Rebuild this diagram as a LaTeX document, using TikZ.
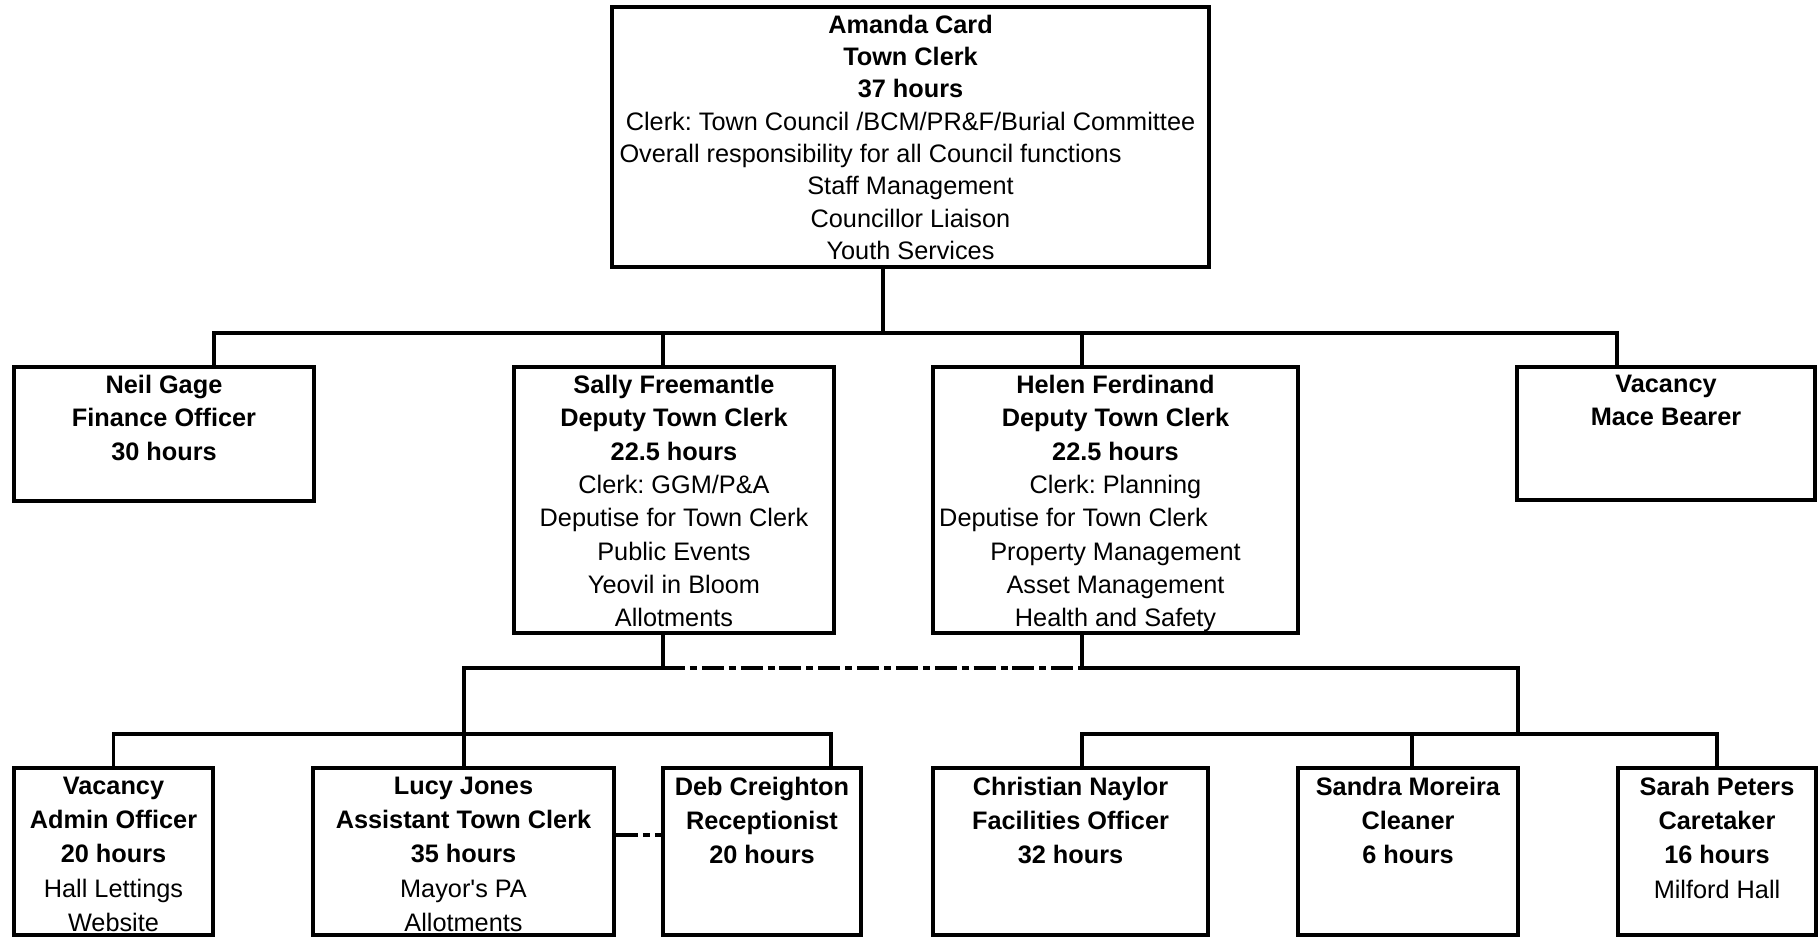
\documentclass[tikz,border=0pt]{standalone}
\usepackage{fontspec}
\setmainfont{Liberation Sans}
\frenchspacing
\usetikzlibrary{fit}
\tikzset{
  postbox/.style={draw, line width=2.2pt, inner sep=0pt},
  posttext/.style={anchor=north, align=center, inner sep=0pt, font=\fontsize{14.4}{19}\selectfont},
  wire/.style={line width=2.2pt},
  dashlink/.style={line width=2.2pt, dash pattern=on 12.5pt off 2.8pt on 4pt off 2.8pt}
}

\begin{document}
\begin{tikzpicture}[x=0.02cm, y=-0.02cm]
  \useasboundingbox (0,0) rectangle (1818,938);
  % town clerk
  \node[postbox, fit={(612,7) (1209,267)}] (clerk) {};
  \node[posttext, font=\fontsize{14.4}{18.4}\selectfont] (clerk-txt) at ([yshift=-0.19cm]clerk.north)
    {\textbf{Amanda Card}\\ \textbf{Town Clerk}\\ \textbf{37 hours}\\
     Clerk: Town Council /BCM/PR\&F/Burial Committee\\
     \mbox{Overall responsibility for all Council functions\hspace{1.6cm}}\\
     Staff Management\\ Councillor Liaison\\ Youth Services};
  % second row
  \node[postbox, fit={(14,367) (314,501)}] (neil) {};
  \node[posttext] (neil-txt) at ([yshift=-0.19cm]neil.north)
    {\textbf{Neil Gage}\\ \textbf{Finance Officer}\\ \textbf{30 hours}};
  \node[postbox, fit={(514,367) (834,633)}] (sally) {};
  \node[posttext] (sally-txt) at ([yshift=-0.19cm]sally.north)
    {\textbf{Sally Freemantle}\\ \textbf{Deputy Town Clerk}\\ \textbf{22.5 hours}\\
     Clerk: GGM/P\&A\\ Deputise for Town Clerk\\ Public Events\\ Yeovil in Bloom\\ Allotments};
  \node[postbox, fit={(933,367) (1298,633)}] (helen) {};
  \node[posttext] (helen-txt) at ([yshift=-0.19cm]helen.north)
    {\textbf{Helen Ferdinand}\\ \textbf{Deputy Town Clerk}\\ \textbf{22.5 hours}\\
     Clerk: Planning\\ \mbox{Deputise for Town Clerk\hspace{1.68cm}}\\ Property Management\\
     Asset Management\\ Health and Safety};
  \node[postbox, fit={(1517,367) (1815,500)}] (mace) {};
  \node[posttext] (mace-txt) at ([yshift=-0.19cm]mace.north)
    {\textbf{Vacancy}\\ \textbf{Mace Bearer}};
  % third row
  \tikzset{posttext/.append style={font=\fontsize{14.4}{19.5}\selectfont}}
  \node[postbox, fit={(14,768) (213,935)}] (admin) {};
  \node[posttext] (admin-txt) at ([yshift=-0.21cm]admin.north)
    {\textbf{Vacancy}\\ \textbf{Admin Officer}\\ \textbf{20 hours}\\ Hall Lettings\\ Website};
  \node[postbox, fit={(313,768) (614,935)}] (lucy) {};
  \node[posttext] (lucy-txt) at ([yshift=-0.21cm]lucy.north)
    {\textbf{Lucy Jones}\\ \textbf{Assistant Town Clerk}\\ \textbf{35 hours}\\
     Mayor\textquotesingle s PA\\ Allotments};
  \node[postbox, fit={(663,768) (861,935)}] (deb) {};
  \node[posttext] (deb-txt) at ([yshift=-0.21cm]deb.north)
    {\textbf{Deb Creighton}\\ \textbf{Receptionist}\\ \textbf{20 hours}};
  \node[postbox, fit={(933,768) (1208,935)}] (christian) {};
  \node[posttext] (christian-txt) at ([yshift=-0.21cm]christian.north)
    {\textbf{Christian Naylor}\\ \textbf{Facilities Officer}\\ \textbf{32 hours}};
  \node[postbox, fit={(1298,768) (1518,935)}] (sandra) {};
  \node[posttext] (sandra-txt) at ([yshift=-0.21cm]sandra.north)
    {\textbf{Sandra Moreira}\\ \textbf{Cleaner}\\ \textbf{6 hours}};
  \node[postbox, fit={(1618,768) (1816,935)}] (sarah) {};
  \node[posttext] (sarah-txt) at ([yshift=-0.21cm]sarah.north)
    {\textbf{Sarah Peters}\\ \textbf{Caretaker}\\ \textbf{16 hours}\\ Milford Hall};

  % connector points
  \coordinate (clerk-out) at ([xshift=-0.55cm]clerk.south);
  \coordinate (neil-in) at ([xshift=1cm]neil.north);
  \coordinate (sally-in) at ([xshift=-0.22cm]sally.north);
  \coordinate (helen-in) at ([xshift=-0.67cm]helen.north);
  \coordinate (mace-in) at ([xshift=-0.98cm]mace.north);
  \coordinate (deb-in) at ([xshift=1.38cm]deb.north);
  \coordinate (christian-in) at ([xshift=0.23cm]christian.north);
  \coordinate (sandra-in) at ([xshift=0.08cm]sandra.north);
  \coordinate (topbus) at (883,333);
  \coordinate (sjoin) at (663,668);
  \coordinate (hjoin) at (1082,668);
  \coordinate (ljoin) at (464,668);
  \coordinate (rjoin) at (1518,668);
  \coordinate (lbus) at (464,734);
  \coordinate (rbus) at (1518,734);

  % top level
  \draw[wire] (clerk-out) -- (clerk-out |- topbus);
  \draw[wire] (neil-in) |- (mace-in |- topbus) -- (mace-in);
  \draw[wire] (sally-in) -- (sally-in |- topbus);
  \draw[wire] (helen-in) -- (helen-in |- topbus);
  % deputies to teams
  \draw[wire] (sally.south -| sjoin) -- (sjoin) -- (ljoin) -- (lucy.north -| ljoin);
  \draw[dashlink] (sjoin) -- (hjoin);
  \draw[wire] (helen.south -| hjoin) -- (hjoin) -- (rjoin) -- (rbus);
  \draw[wire] (admin.north) |- (deb-in |- lbus) -- (deb-in);
  \draw[wire] (christian-in) |- (sarah.north |- rbus) -- (sarah.north);
  \draw[wire] (sandra-in) -- (sandra-in |- rbus);
  \draw[dashlink] ([yshift=0.33cm]lucy.east) -- ([yshift=0.33cm]deb.west);
\end{tikzpicture}
\end{document}
